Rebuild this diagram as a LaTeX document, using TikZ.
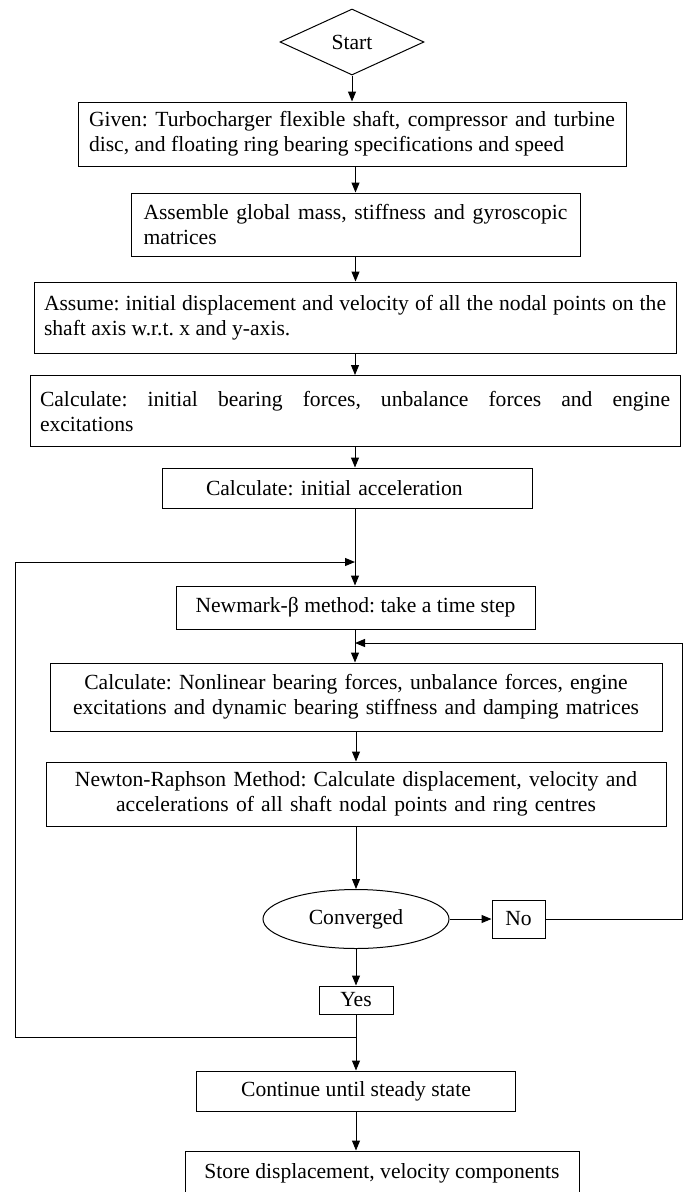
\documentclass[tikz,border=0pt]{standalone}
\usepackage{fontspec}
\setmainfont{Liberation Serif}
\usetikzlibrary{shapes.geometric, arrows.meta, positioning, calc}
\frenchspacing

\begin{document}
\begin{tikzpicture}[x=1pt, y=-1pt,
        every node/.style={font=\fontsize{21.6}{25}\selectfont},
        procbox/.style={draw, line width=1pt, inner ysep=0pt},
        flowarrow/.style={line width=1pt, -{Triangle[length=10pt, width=8pt]}},
        flowline/.style={line width=1pt}]
    \useasboundingbox (0,0) rectangle (683,1192);
    \clip (0,0) rectangle (683,1192);

    % Start and input data
    \node[draw, line width=1pt, diamond, aspect=2.18, minimum width=144pt, minimum height=66pt, inner sep=0pt] (start) at (352, 42) {Start};
    \node[procbox, text width=526pt, inner xsep=11pt, minimum height=64pt, align=justify] (given) at (352, 134) {Given: Turbocharger flexible shaft, compressor and turbine\linebreak disc, and floating ring bearing specifications and speed};
    \node[procbox, text width=424pt, inner xsep=12.5pt, minimum height=63pt, align=justify] (assemble) at (355.5, 224.5) {Assemble global mass, stiffness and gyroscopic\linebreak matrices};
    \node[procbox, text width=622pt, inner xsep=10pt, minimum height=71pt, align=justify] (assume) at (355, 317.5) {Assume: initial displacement and velocity of all the nodal points on the\linebreak shaft axis w.r.t. x and y-axis.};
    \node[procbox, text width=630pt, inner xsep=10pt, minimum height=71pt, align=justify] (initforce) at (355, 411) {Calculate: initial bearing forces, unbalance forces and engine\linebreak excitations};
    \node[procbox, text width=282pt, inner xsep=44pt, minimum height=40pt, align=left] (initaccel) at (347, 488) {Calculate: initial acceleration};

    % Time stepping
    \coordinate (jtop) at (355, 562);
    \node[procbox, minimum width=359pt, minimum height=43pt] (newmark) at (355.5, 607.5) {Newmark-β method: take a time step};
    \coordinate (jright) at (355, 643);
    \node[procbox, text width=600pt, inner xsep=6pt, minimum height=68pt, align=center] (nonlin) at (356, 697) {Calculate: Nonlinear bearing forces, unbalance forces, engine\\ excitations and dynamic bearing stiffness and damping matrices};
    \node[procbox, text width=608pt, inner xsep=6pt, minimum height=64pt, align=center] (newton) at (356, 794) {Newton-Raphson Method: Calculate displacement, velocity and\\ accelerations of all shaft nodal points and ring centres};

    % Convergence check
    \node[draw, line width=1pt, ellipse, minimum width=186pt, minimum height=59pt, inner sep=0pt] (conv) at (356, 919) {Converged};
    \node[procbox, minimum width=53pt, minimum height=38pt] (no) at (518.5, 919) {No};
    \node[procbox, minimum width=74pt, minimum height=28pt] (yes) at (356, 1000) {Yes};
    \coordinate (jbot) at (356, 1037);
    \coordinate (rbot) at (682, 919);
    \coordinate (rtop) at (682, 643);
    \coordinate (lbot) at (15, 1037);
    \coordinate (ltop) at (15, 562);

    % Output
    \node[procbox, minimum width=319pt, minimum height=40pt] (cont) at (356, 1091) {Continue until steady state};
    \node[procbox, minimum width=394pt, minimum height=44pt] (store) at (382, 1173) {Store displacement, velocity components};

    % Connectors
    \draw[flowarrow] (start.south) -- (start.south |- given.north);
    \draw[flowarrow] (assemble.north |- given.south) -- (assemble.north);
    \draw[flowarrow] (assemble.south) -- (assemble.south |- assume.north);
    \draw[flowarrow] (assume.south) -- (initforce.north);
    \draw[flowarrow] (initforce.south) -- (initforce.south |- initaccel.north);
    \draw[flowline] (jtop |- initaccel.south) -- (jtop);
    \draw[flowarrow] (jtop) -- (jtop |- newmark.north);
    \draw[flowline] (jright |- newmark.south) -- (jright);
    \draw[flowarrow] (jright) -- (jright |- nonlin.north);
    \draw[flowarrow] (nonlin.south) -- (newton.north);
    \draw[flowarrow] (newton.south) -- (conv.north);
    \draw[flowarrow] (conv.east) -- (no.west);
    \draw[flowarrow] (no.east) -- (rbot) -- (rtop) -- (jright);
    \draw[flowarrow] (conv.south) -- (yes.north);
    \draw[flowline] (yes.south) -- (jbot);
    \draw[flowarrow] (jbot) -- (lbot) -- (ltop) -- (jtop);
    \draw[flowarrow] (jbot) -- (jbot |- cont.north);
    \draw[flowarrow] (cont.south) -- (cont.south |- store.north);
\end{tikzpicture}
\end{document}
